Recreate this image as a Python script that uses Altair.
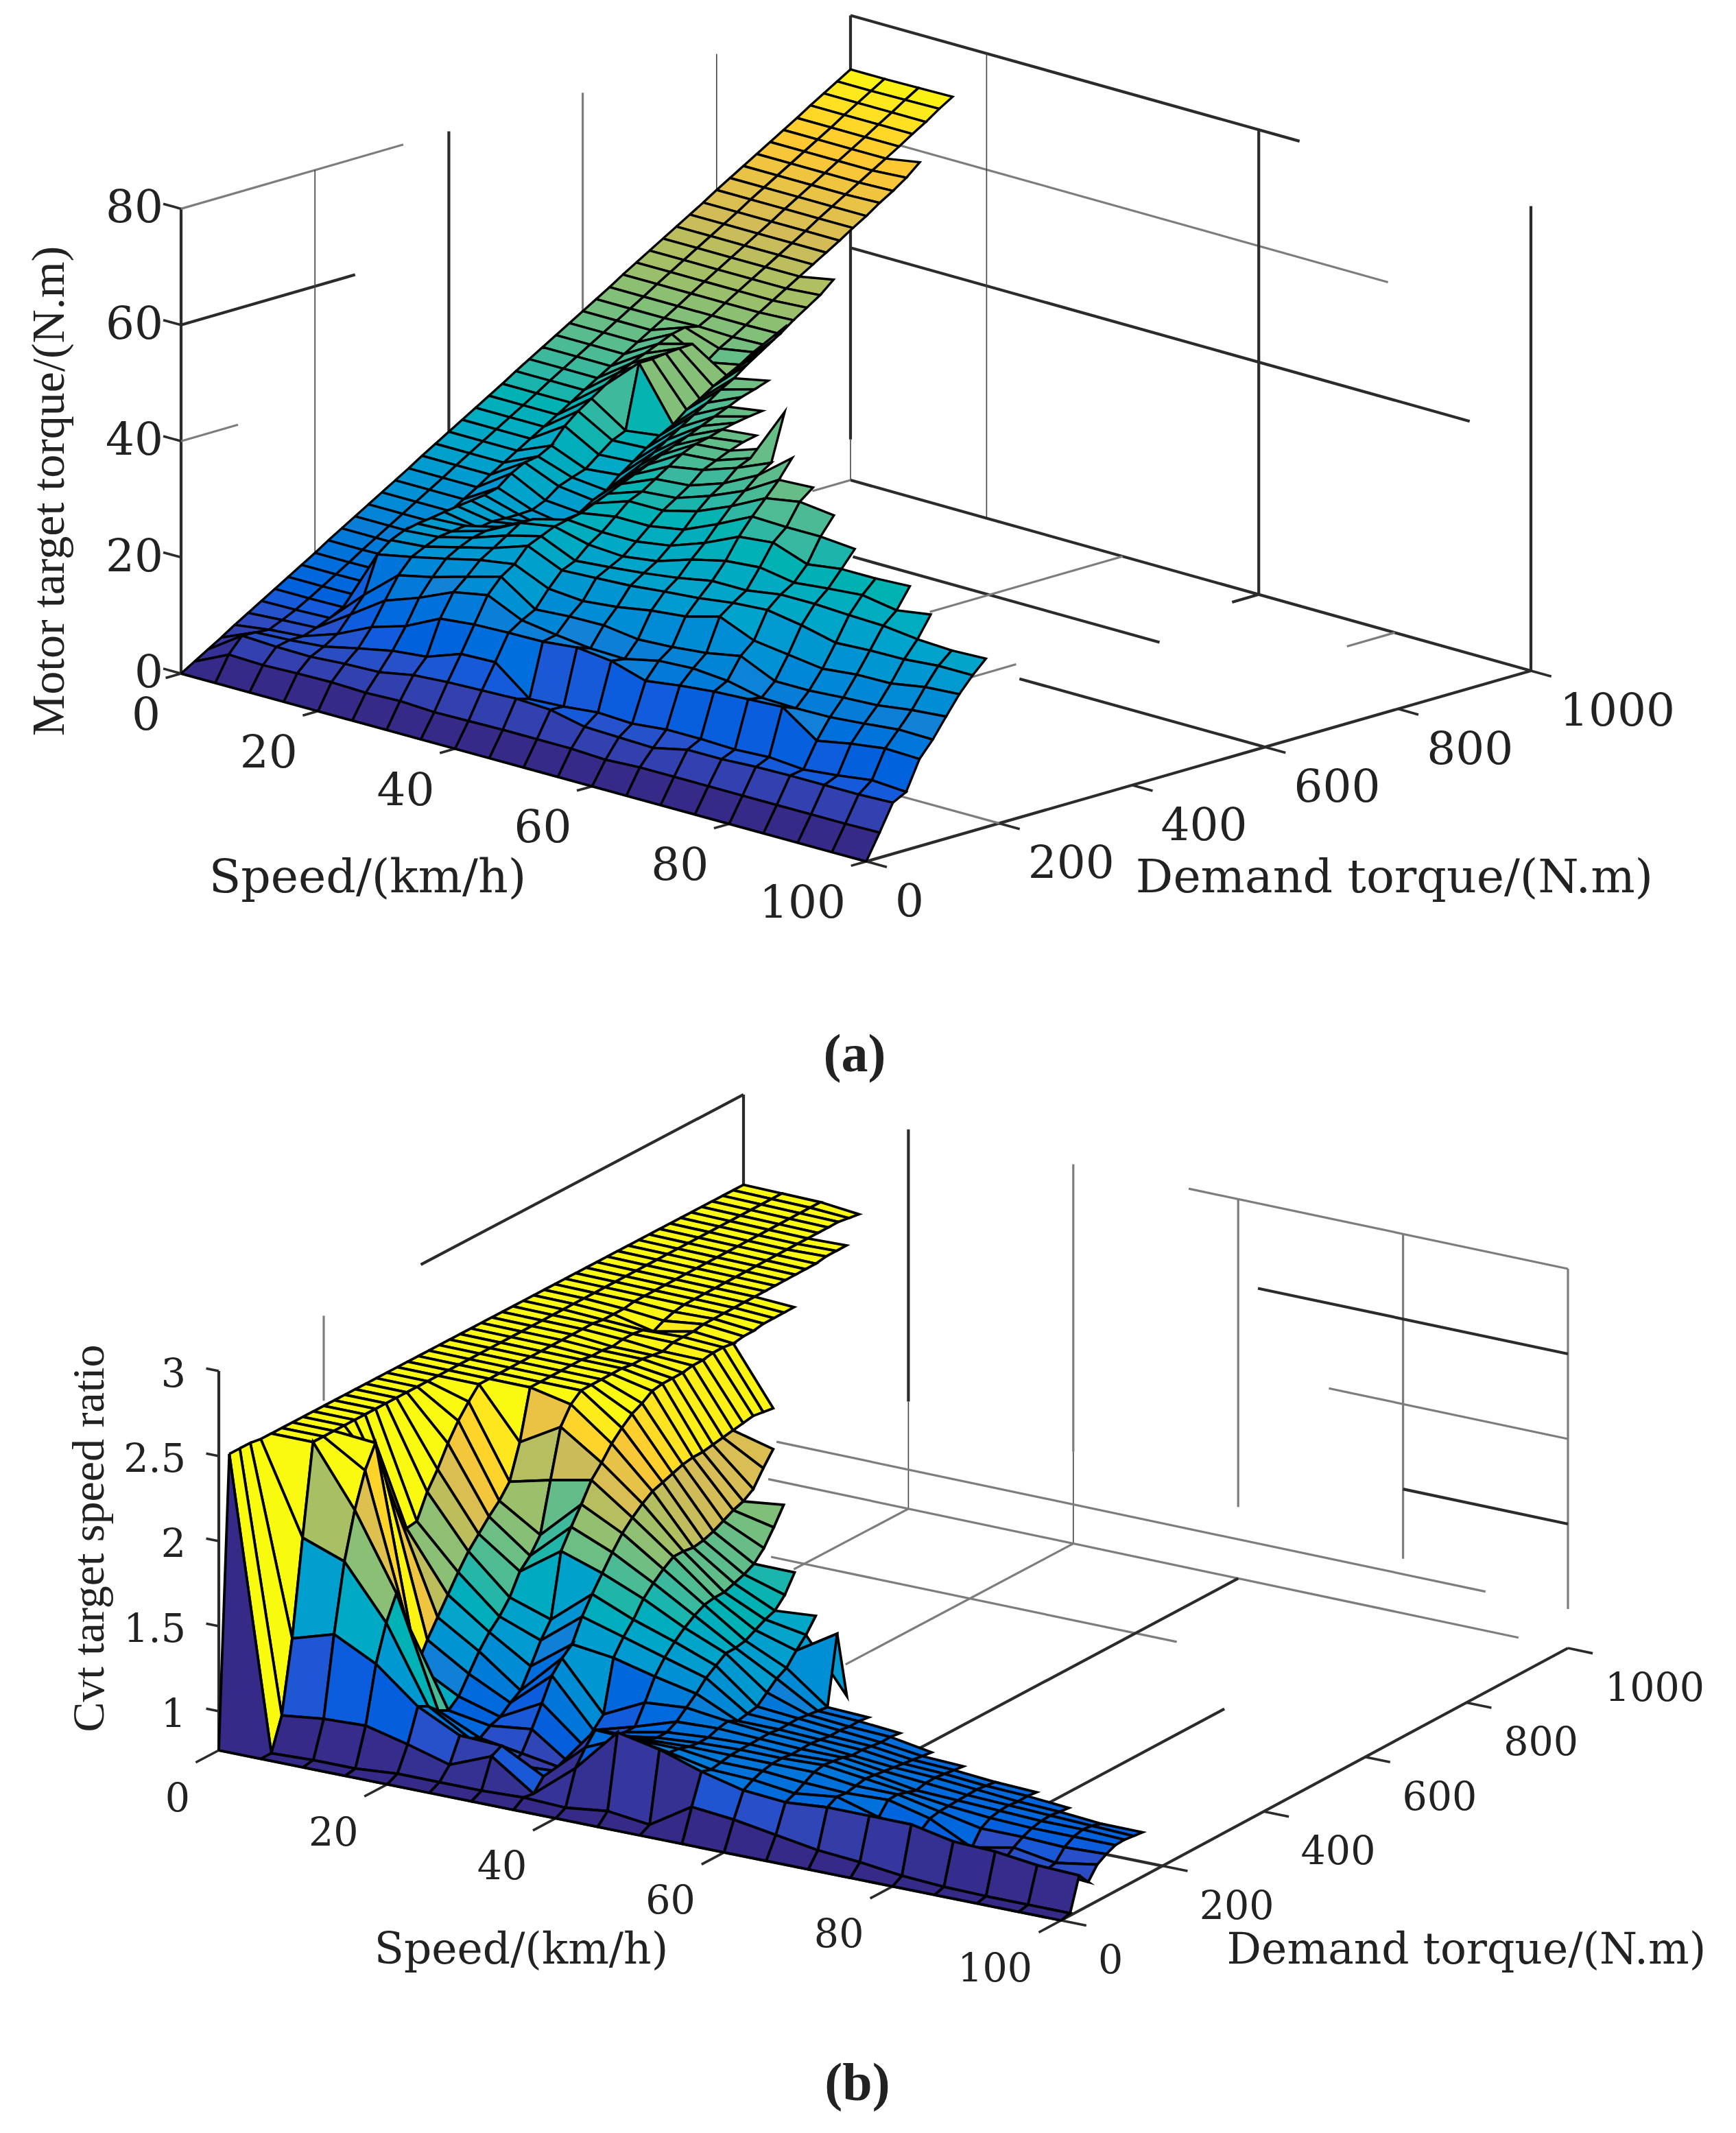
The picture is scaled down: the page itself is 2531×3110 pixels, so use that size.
import altair as alt
import pandas as pd

alt.data_transformers.disable_max_rows()

SPEEDS = [0, 5, 10, 15, 20, 25, 30, 35, 40, 45, 50, 55, 60, 65, 70, 75, 80, 85, 90, 95, 100]
TORQUE_STEP = 20

# Motor target torque: one list per speed, demand torque 0, 20, 40, ...
MOTOR = [
 [0,1.4,2.8,4.2,5.7,7.1,8.5,9.9,11.3,12.7,14.1,15.6,17,18.4,19.8,21.2,22.6,24,25.5,26.9,28.3,29.7,31.1,32.5,33.9,35.4,36.8,38.2,39.6,41,42.4,43.8,45.2,46.7,48.1,49.5,50.9,52.3,53.7,55.1,56.6,58,59.4,60.8,62.2,63.6,65,66.5,67.9,69.3,70.7],
 [0,4.2,6.8,6.7,6.5,7.5,8.6,9.9,11.3,12.7,14.1,15.6,17,18.4,19.8,21.2,22.6,24,25.5,26.9,28.3,29.7,31.1,32.5,33.9,35.4,36.8,38.2,39.6,41,42.4,43.8,45.2,46.7,48.1,49.5,50.9,52.3,53.7,55.1,56.6,58,59.4,60.8,62.2,63.6,65,66.5,67.9,69.3,70.7],
 [0,4,6.5,7,7,7.8,8.8,10,11.4,12.8,14.2,15.7,17,18.4,19.8,21.2,22.6,24,25.5,26.9,28.3,29.7,31.1,32.5,33.9,35.4,36.8,38.2,39.6,41,42.4,43.8,45.2,46.7,48.1,49.5,50.9,52.3,53.7,55.1,56.6,58,59.4,60.8,62.2,63.6,65,66.5,67.9,69.4,70.8],
 [0,4.2,6.4,7.5,9,11.7,14.4,20.7,22.5,23.5,24,24.3,24.7,25,25.3,25.6,26.2,28,29.2,29.6,30.8,33.5,35.4,36.9,38.5,40,41,42,43,44,44.5,44,45.2,46.7,48.1,49.5,50.9,52.3,53.7,55.1,56.6,58,59.4,60.8,62.2,63.6,65,66.5,67.9,69.5,70.9],
 [0,4.3,6.8,8.8,11.8,15.7,19.4,21.9,23,24,24.3,24.6,23.6,24,23.9,23.9,24,25,26.75,27.6,28.4,30.2,32,33,44,44,44.3,44.5,44.6,40.8,42.5,43.8,45.2,46.7,48.1,49.5,50.9,52.3,53.7,55.1,56.6,58,59.6,61,62.6,64.6],
 [0,4.1,7,10,13.6,17.8,20.7,23.2,24.5,25.5,26,26,25,25,24.5,22.5,23,24.5,26,27,29,30.6,32.3,33.8,35,36.9,38.1,39.6,40.8,42,43.5,44,45.3,47,48.5,50,52],
 [0,4.3,8.1,10.6,16.5,20.4,22.4,24.6,26,27.5,29,29,27,26.5,26.5,27,28.5,30,31.5,33,34.5,36,37.5,39,40.4,42,43.3,45,46.5,48,49.8],
 [0,4,8.5,12.7,17.1,21.5,24,25.5,28,29,30,30.5,31,32,33,34,35,36,37,38,39,40,41,42,43,43.7,44.5],
 [0,4.1,8.7,12.9,17.3,18.8,20,22.9,25.4,26.4,28.5,30,32,34,35,36.5,38,39.5,40.5,41,41.7,42.2,42.6,42.9],
 [0,4.2,8.9,8.2,17.4,17.9,20.4,22.4,25.7,26.9,28.1,30,32,34,35.5,37,39,40,41,41.8,42.3],
 [0,4.2,8.6,8.5,18,17.2,20.5,23,26,27.5,28.9,30.9,33,35.5,37.5,39,41,42,43],
 [0,4.2,7.3,9.1,17.3,17,19.7,24,26.6,28.3,30.8,33,35.6,38,40,42,43.5,51.6],
 [0,3.9,7.1,8.8,15.5,18.3,20,24.6,27.1,29.4,32.2,35.7,38.5,41,43.5,46.6],
 [0,4.2,6.9,9.4,16.3,18.6,20.6,26.2,27.9,29.4,32.7,36.3,38.3,42,43.8],
 [0,4.2,8.2,9.4,16.9,18.1,21.7,23.7,28.3,30.3,31.7,34.2,38.3,41.3],
 [0,4.2,8.2,9.2,17.2,16.8,19,22.9,27.3,30.3,32.3,35,37.8],
 [0,4.2,8.5,9.5,17.5,16.6,19,22.1,25.9,30,32.8,35],
 [0,4.2,8.6,9,13.3,16.7,19.4,22.7,26.2,29.8,31.8,35.3],
 [0,4.2,8.6,9.6,14.4,17.2,19.7,22.8,26.3,29.1,32.7],
 [0,4.2,8.6,10.4,15.2,17.8,20.5,23.8,26.8,28.8],
 [0,4.3,8.8,10,15,17.7,21,24.2,26.8,29],
]

# CVT target speed ratio: same grid
RATIO = [
 [.77,2.48,2.48,2.48,2.47,2.47,2.47,2.47,2.47,2.47,2.47,2.47,2.47,2.47,2.47,2.47,2.47,2.47,2.47,2.47,2.47,2.47,2.47,2.47,2.47,2.47,2.47,2.47,2.47,2.47,2.47,2.47,2.47,2.47,2.47,2.47,2.47,2.47,2.47,2.47,2.47,2.47,2.47,2.47,2.47,2.47,2.47,2.47,2.47,2.47,2.47],
 [.77,.77,.96,1.38,1.94,2.47,2.47,2.47,2.47,2.47,2.47,2.47,2.47,2.47,2.47,2.47,2.47,2.47,2.47,2.47,2.47,2.47,2.47,2.47,2.47,2.47,2.47,2.47,2.47,2.47,2.47,2.47,2.47,2.47,2.47,2.47,2.47,2.47,2.47,2.47,2.47,2.47,2.47,2.47,2.47,2.47,2.47,2.47,2.47,2.47,2.47],
 [.77,.78,.99,1.455,1.85,2.12,2.32,2.45,2.2,2.0,1.85,1.86,2.0,2.1,2.22,2.32,2.4,2.47,2.47,2.47,2.47,2.47,2.47,2.47,2.47,2.47,2.47,2.47,2.47,2.46,2.46,2.46,2.47,2.47,2.47,2.47,2.47,2.47,2.47,2.47,2.47,2.47,2.47,2.47,2.47,2.47,2.47,2.47,2.47,2.47,2.47],
 [.77,.78,1.0,1.33,1.54,1.68,1.48,1.19,1.31,1.41,1.51,1.61,1.70,1.77,1.84,1.90,1.98,2.18,2.47,2.47,2.47,2.47,2.47,2.47,2.46,2.46,2.45,2.46,2.46,2.45,2.41,2.44,2.46,2.47,2.47,2.47,2.47,2.47,2.47,2.47,2.47,2.47,2.47,2.47,2.47,2.47,2.47,2.47,2.47,2.46,2.45],
 [.77,.80,.94,1.13,1.10,1.04,1.01,1.06,1.16,1.26,1.34,1.40,1.48,1.60,1.66,1.75,2.04,2.32,2.42,2.47,2.47,2.47,2.47,2.47,2.46,2.46,2.45,2.44,2.46,2.46,2.46,2.47,2.47,2.47,2.47,2.47,2.47,2.47,2.47,2.47,2.47,2.47,2.47,2.48,2.48,2.48],
 [.77,.80,.87,1.01,.96,.93,.97,.99,1.04,1.08,1.19,1.31,1.40,1.77,1.88,1.98,2.09,2.16,2.24,2.30,2.35,2.38,2.42,2.43,2.43,2.43,2.44,2.44,2.45,2.45,2.44,2.45,2.45,2.46,2.46,2.46,2.46],
 [.77,.80,.97,1.0,.855,.89,1.0,1.12,1.25,1.32,1.37,1.50,1.60,1.69,1.78,1.86,1.92,1.97,2.01,2.03,2.05,2.07,2.08,2.08,2.09,2.10,2.11,2.12,2.13,2.12,2.11],
 [.77,.81,.80,.87,.87,.85,.83,.92,.98,1.04,1.34,1.43,1.50,1.59,1.65,1.70,1.74,1.74,1.73,1.74,1.76,1.79,1.82,1.84,1.88,1.97,2.05],
 [.77,.80,1.0,1.09,1.16,1.12,1.06,1.05,1.05,1.16,1.28,1.36,1.42,1.47,1.51,1.54,1.55,1.55,1.57,1.59,1.62,1.68,1.77,1.87],
 [.77,.83,1.26,1.20,1.15,1.12,1.1,1.1,1.13,1.18,1.23,1.29,1.33,1.37,1.37,1.38,1.41,1.44,1.46,1.52,1.62],
 [.77,.80,1.21,1.16,1.15,1.13,1.12,1.12,1.14,1.15,1.12,1.13,1.14,1.19,1.24,1.27,1.34,1.40,1.48],
 [.77,.955,1.13,1.11,1.12,1.13,1.13,1.13,1.13,1.13,1.12,1.12,1.12,1.11,1.10,1.09,1.49,1.09],
 [.77,.93,1.07,1.10,1.12,1.13,1.13,1.12,1.12,1.12,1.11,1.1,1.1,1.09,1.09,1.08],
 [.77,.89,1.05,1.07,1.10,1.13,1.14,1.13,1.12,1.10,1.10,1.09,1.08,1.08,1.07],
 [.77,.85,1.07,1.10,1.09,1.10,1.11,1.10,1.09,1.08,1.07,1.06,1.05,1.04],
 [.77,.83,1.07,1.03,1.10,1.10,1.08,1.06,1.07,1.07,1.06,1.05,1.04],
 [.77,.80,1.07,1.0,1.04,1.05,1.05,1.05,1.05,1.05,1.04,1.03],
 [.77,.785,1.02,.85,.92,1.0,1.03,1.04,1.04,1.03,1.03,1.02],
 [.77,.78,1.01,.93,.97,1.0,1.02,1.03,1.03,1.02,1.01],
 [.77,.78,.98,.92,.93,.99,1.02,1.03,1.02,1.0],
 [.77,.78,.97,.90,.97,1.0,1.02,1.02,1.01,1.0],
]

PARULA = ["#352a87", "#0f5cdd", "#1481d6", "#06a4ca", "#2eb7a4", "#87bf77", "#d1bb59", "#fec832", "#f9fb0e"]

PANEL_A = dict(x=[264, 1263, 1240, 2232], y=[982, 1256, 700, 978], zpx=8.47, zmin=0.0, zmax=80, shear=0.0)
PANEL_B = dict(x=[319, 1547, 1084, 2286], y=[2552, 2800, 2149, 2403], zpx=248.0, zmin=0.77, zmax=3, shear=0.0008)


def project(p, s, t, z, surface=False):
    u, v = s / 100.0, t / 1000.0
    x = (1-u)*(1-v)*p["x"][0] + u*(1-v)*p["x"][1] + (1-u)*v*p["x"][2] + u*v*p["x"][3]
    y = (1-u)*(1-v)*p["y"][0] + u*(1-v)*p["y"][1] + (1-u)*v*p["y"][2] + u*v*p["y"][3]
    if surface:
        x -= p["shear"] * s * t
    return x, y - (z - p["zmin"]) * p["zpx"]


def surface_rows(p, table):
    rows, qid = [], 0
    nmax = max(len(c) for c in table)
    for j in range(nmax - 2, -1, -1):
        for i in range(len(SPEEDS) - 1):
            if j + 1 >= len(table[i]) or j + 1 >= len(table[i + 1]):
                continue
            corners = [(i, j), (i + 1, j), (i + 1, j + 1), (i, j + 1), (i, j)]
            for k, (a, b) in enumerate(corners):
                x, y = project(p, SPEEDS[a], b * TORQUE_STEP, table[a][b], surface=True)
                rows.append(dict(x=x, y=y, k=k, q=qid, c=table[i][j]))
            qid += 1
    return pd.DataFrame(rows)


# wall / floor grid pieces: (s1, t1, z1, s2, t2, z2, style)
DARK, THIN, GRAY = "dark", "thin", "gray"
GRID_A = [
 (0,0,80,0,0,0,DARK),(0,0,80,0,332,80,GRAY),(0,0,60,0,260,60,DARK),(0,0,40,0,85,40,GRAY),
 (0,200,80,0,200,0,THIN),(0,400,80,0,400,0,DARK),(0,600,80,0,600,0,GRAY),(0,800,80,0,800,30,THIN),
 (0,1000,80,0,1000,7,DARK),(0,1000,7,0,1000,0,THIN),
 (0,1000,80,66,1000,80,DARK),(6,1000,60,79,1000,60,GRAY),(0,1000,40,91,1000,40,DARK),
 (20,1000,80,20,1000,0,THIN),(60,1000,80,60,1000,0,DARK),(100,1000,80,100,1000,0,DARK),
 (0,1000,0,100,1000,0,DARK),(100,0,0,100,1000,0,DARK),(0,0,0,100,0,0,DARK),
 (20,800,0,65,800,0,DARK),(64,600,0,100,600,0,DARK),(85,200,0,100,200,0,GRAY),
 (80,928,0,80,1000,0,GRAY),(40,711,0,40,1000,0,GRAY),(60,565,0,60,636,0,GRAY),(60,960,0,60,1000,0,DARK),
 (0,943,0,0,1000,0,GRAY),
]
GRID_B = [
 (0,0,3,0,0,.77,DARK),(0,385,3,0,1000,3,DARK),(0,200,3,0,200,2.5,GRAY),(0,1000,3,0,1000,1.8,DARK),
 (20,1000,3,20,1000,1.40,DARK),(20,1000,1.40,20,1000,.77,THIN),
 (40,1000,3,40,1000,1.31,GRAY),(40,1000,1.31,40,1000,.77,THIN),
 (60,1000,3,60,1000,1.19,GRAY),(80,1000,3,80,1000,1.09,GRAY),(100,1000,3,100,1000,1.0,GRAY),
 (54,1000,3,100,1000,3,GRAY),(62.4,1000,2.5,100,1000,2.5,DARK),(71,1000,2,100,1000,2,GRAY),(80,1000,1.5,100,1000,1.5,DARK),
 (4,1000,1,90,1000,1,GRAY),(3,1000,.77,94,1000,.77,GRAY),(16,800,.77,65,800,.77,GRAY),
 (60,372,.77,60,1000,.77,DARK),(80,300,.77,80,650,.77,DARK),(40,560,.77,40,1000,.77,GRAY),(20,780,.77,20,1000,.77,GRAY),
 (90,200,.77,100,200,.77,DARK),
 (0,0,.77,100,0,.77,DARK),(100,0,.77,100,1000,.77,DARK),
]
STYLE = {DARK: ("#2b2b2b", 4.2), THIN: ("#444444", 1.6), GRAY: ("#7d7d7d", 3.2)}

S_TICKS = [0, 20, 40, 60, 80, 100]
T_TICKS = [0, 200, 400, 600, 800, 1000]
Z_TICKS_A = [0, 20, 40, 60, 80]
Z_TICKS_B = [1, 1.5, 2, 2.5, 3]
Z_LABELS_B = ["1", "1.5", "2", "2.5", "3"]


def grid_rows(p, grid, z_ticks, sdrop, tlen):
    rows = []
    for s1, t1, z1, s2, t2, z2, st in grid:
        a = project(p, s1, t1, z1)
        b = project(p, s2, t2, z2)
        rows.append(dict(x=a[0], y=a[1], x2=b[0], y2=b[1], col=STYLE[st][0], w=STYLE[st][1]))
    z0 = p["zmin"]
    for s in S_TICKS:
        a, b = project(p, s, 0, z0), project(p, s, -tlen, z0)
        rows.append(dict(x=a[0], y=a[1], x2=b[0], y2=b[1], col="#2b2b2b", w=3.6))
    for t in T_TICKS:
        a, b = project(p, 100, t, z0), project(p, 103, t, z0)
        rows.append(dict(x=a[0], y=a[1], x2=b[0], y2=b[1], col="#2b2b2b", w=3.6))
    for z in z_ticks:
        a, b = project(p, 0, 0, z), project(p, -sdrop, 0, z)
        rows.append(dict(x=a[0], y=a[1], x2=b[0], y2=b[1], col="#2b2b2b", w=3.6))
    return pd.DataFrame(rows)


def tick_labels(p, z_ticks, z_labels, zdx, zdy, sdx, sdy, tdx, tdy):
    z0 = p["zmin"]
    right, left = [], []
    for z, lab in zip(z_ticks, z_labels):
        x, y = project(p, 0, 0, z)
        right.append(dict(x=x + zdx, y=y + zdy, label=lab))
    for s in S_TICKS:
        x, y = project(p, s, 0, z0)
        right.append(dict(x=x + sdx, y=y + sdy, label=str(s)))
    for t in T_TICKS:
        x, y = project(p, 100, t, z0)
        left.append(dict(x=x + tdx, y=y + tdy, label=str(t)))
    return right, left


SX = alt.Scale(domain=[8, 2523], range=[0, 2515], nice=False, zero=False)
SY = alt.Scale(domain=[8, 3102], range=[0, 3094], nice=False, zero=False)
X = alt.X("x:Q", scale=SX, axis=None)
Y = alt.Y("y:Q", scale=SY, axis=None)


def grid_layer(df):
    return alt.Chart(df).mark_rule().encode(
        x=X, y=Y, x2="x2:Q", y2="y2:Q",
        color=alt.Color("col:N", scale=None),
        strokeWidth=alt.StrokeWidth("w:Q", scale=None),
    )


def surface_layer(df, lo, hi, width):
    n = len(PARULA) - 1
    stops = [lo + (hi - lo) * i / n for i in range(n + 1)]
    return alt.Chart(df).mark_line(strokeJoin="miter", strokeMiterLimit=6, strokeWidth=width, stroke="#000000", interpolate="linear").encode(
        x=X, y=Y, order=alt.Order("k:Q"),
        detail="q:N",
        fill=alt.Fill("c:Q", scale=alt.Scale(domain=stops, range=PARULA), legend=None),
    )


def text_layer(rows, size, align, font="DejaVu Serif", weight="normal", angle=0):
    return alt.Chart(pd.DataFrame(rows)).mark_text(
        font=font, fontSize=size, align=align, baseline="middle", color="#222222", fontWeight=weight, angle=angle
    ).encode(x=X, y=Y, text="label:N")


za = [str(z) for z in Z_TICKS_A]
ra, la = tick_labels(PANEL_A, Z_TICKS_A, za, -26, 0, -30, 62, 42, 60)
rb, lb = tick_labels(PANEL_B, Z_TICKS_B, Z_LABELS_B, -48, 6, -42, 72, 54, 60)

TITLES_A = [dict(x=536, y=1281, label="Speed/(km/h)"), dict(x=2033, y=1281, label="Demand torque/(N.m)")]
TITLES_B = [dict(x=760, y=2844, label="Speed/(km/h)"), dict(x=2138, y=2844, label="Demand torque/(N.m)")]
ROT_A = [dict(x=73, y=716, label="Motor target torque/(N.m)")]
ROT_B = [dict(x=131, y=2243, label="Cvt target speed ratio")]
CAPTIONS = [dict(x=1246, y=1539, label="(a)"), dict(x=1250, y=3039, label="(b)")]

layers = [
    grid_layer(grid_rows(PANEL_A, GRID_A, Z_TICKS_A, 2.6, 23)),
    grid_layer(grid_rows(PANEL_B, GRID_B, Z_TICKS_B, 1.5, 44)),
    surface_layer(surface_rows(PANEL_A, MOTOR), 0, 71, 3.4),
    surface_layer(surface_rows(PANEL_B, RATIO), 0.77, 2.48, 3.8),
    text_layer(ra, 66, "right"), text_layer(la, 66, "left"),
    text_layer(rb, 57, "right"), text_layer(lb, 57, "left"),
    text_layer(TITLES_A, 68, "center"), text_layer(TITLES_B, 63, "center"),
    text_layer(ROT_A, 68, "center", font="Liberation Serif", angle=270),
    text_layer(ROT_B, 66, "center", font="Liberation Serif", angle=270),
    text_layer(CAPTIONS, 78, "center", font="Liberation Serif", weight="bold"),
]

chart = alt.layer(*layers).resolve_scale(fill="independent").properties(
    width=2515, height=3094, padding=0, background="white", autosize=alt.AutoSizeParams(type="none")
).configure_view(strokeWidth=0)

chart.save("out.html", embed_options={"renderer": "svg", "actions": False})
